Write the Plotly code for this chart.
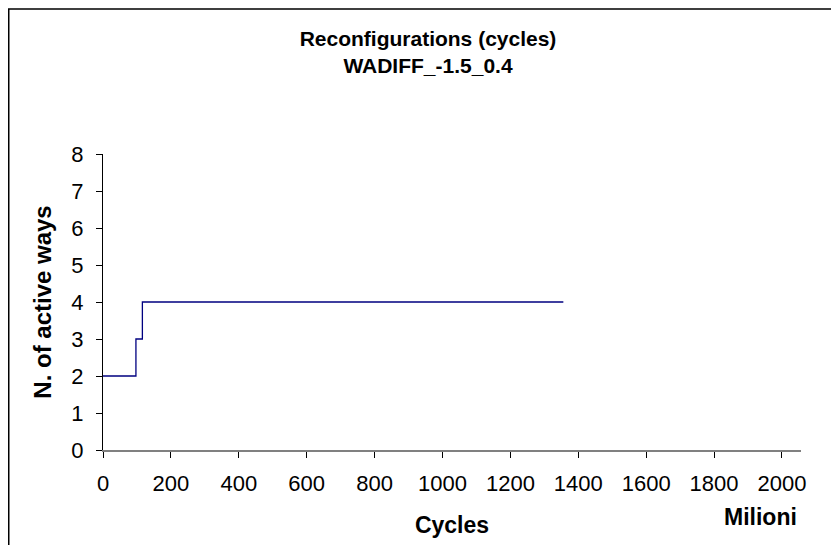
import plotly.graph_objects as go

# Data (cycles in millions, number of active ways)
cycles = [0, 97, 116, 1356]
active_ways = [2, 3, 4, 4]

x_ticks = [0, 200, 400, 600, 800, 1000, 1200, 1400, 1600, 1800, 2000]
y_ticks = [0, 1, 2, 3, 4, 5, 6, 7, 8]

# page body has an 8px margin, so the figure is sized/positioned to compensate
W, H = 831, 537
ML, MR, MT, MB = 95, 38, 146, 95
pw = W - ML - MR
ph = H - MT - MB

FONT = "Liberation Sans, Arial, sans-serif"

fig = go.Figure()
fig.add_trace(go.Scatter(
    x=cycles, y=active_ways, mode="lines", line_shape="hv",
    line=dict(color="#000080", width=1.3), showlegend=False,
))

def px_x(p):
    return (p - ML) / pw

def px_y(p):
    return (H - MB - p) / ph

fig.update_layout(
    width=W, height=H, autosize=False,
    margin=dict(l=ML, r=MR, t=MT, b=MB),
    paper_bgcolor="white", plot_bgcolor="white",
    font=dict(family=FONT, color="black", size=22),
    title=dict(
        text="<b>Reconfigurations (cycles)<br>WADIFF_-1.5_0.4</b>",
        xref="container", x=420 / W, xanchor="center",
        yref="container", y=1 - 38 / H, yanchor="top",
        font=dict(family=FONT, size=21, color="black"),
    ),
    xaxis=dict(
        range=[0, 2056], tickvals=x_ticks, ticktext=[str(v) for v in x_ticks],
        showgrid=False, zeroline=False, showline=True, linecolor="#808080", linewidth=2,
        ticks="outside", ticklen=6, tickcolor="#000000", tickwidth=1,
        tickfont=dict(size=22), ticklabelstandoff=7,
        title=dict(text="<b>Cycles</b>", font=dict(size=23), standoff=21),
    ),
    yaxis=dict(
        range=[0, 8], tickvals=y_ticks, showgrid=False, zeroline=False,
        showline=True, linecolor="#000000", linewidth=1,
        ticks="outside", ticklen=6, tickcolor="#000000", tickwidth=1,
        tickfont=dict(size=22), ticklabelstandoff=8,
        title=dict(text="<b>N. of active ways</b>", font=dict(size=24), standoff=12),
    ),
    annotations=[dict(
        text="<b>Milioni</b>", xref="paper", yref="paper",
        x=px_x(752), y=px_y(509), xanchor="center", yanchor="middle",
        showarrow=False, font=dict(size=23),
    )],
    shapes=[dict(
        type="rect", xref="paper", yref="paper",
        x0=px_x(0.75), x1=px_x(W + 20), y0=px_y(H + 20), y1=px_y(1),
        line=dict(color="#000000", width=1.5), fillcolor="rgba(0,0,0,0)", layer="below",
    )],
)

fig.write_html("out.html")
